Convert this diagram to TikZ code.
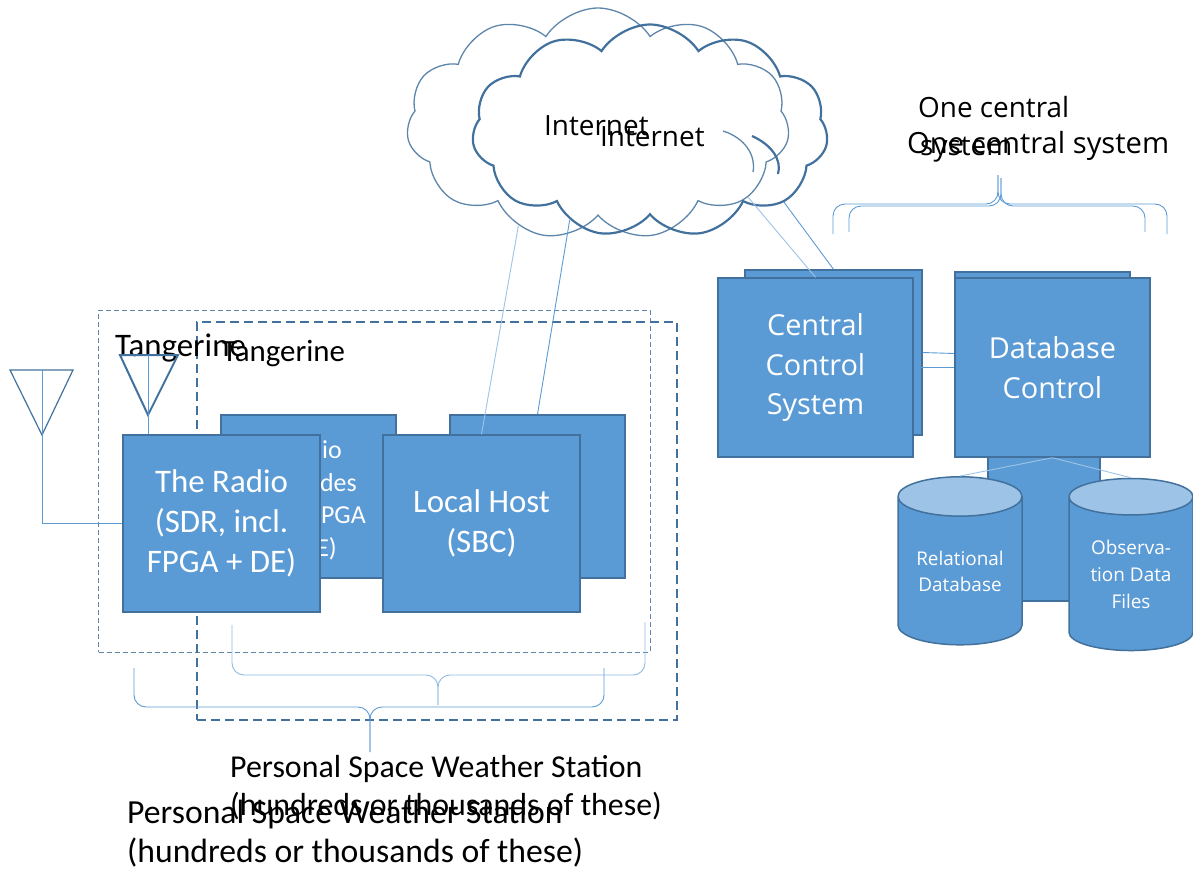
\documentclass[tikz,border=0pt]{standalone}
\usepackage{fontspec}
\setmainfont{Carlito}
\newfontfamily\segoe{Open Sans}
\usetikzlibrary{shapes.symbols,shapes.geometric}
\definecolor{boxfill}{HTML}{5B9BD5}
\definecolor{boxline}{HTML}{41719C}
\definecolor{lightline}{HTML}{9DC3E6}
\definecolor{cylend}{HTML}{9DC3E6}
\tikzset{
  blk/.style={draw=boxline, line width=1.5bp, fill=boxfill, text=white, inner sep=0, align=center},
  cyl/.style={cylinder, shape border rotate=90, draw=boxline, line width=1.5bp,
    cylinder uses custom fill, cylinder body fill=boxfill, cylinder end fill=cylend,
    aspect=0.45, text=white, align=center, inner sep=0},
  link/.style={draw=boxfill, line width=0.9bp},
  linkl/.style={draw=lightline, line width=0.9bp},
  brace/.style={draw=boxfill, line width=0.9bp, rounded corners=12bp},
  bracel/.style={draw=lightline!80!boxfill, line width=0.9bp, rounded corners=12bp},
  tangA/.style={draw=boxline!85, line width=1bp, dash pattern=on 5bp off 3bp, inner sep=0},
  tangB/.style={draw=boxline, line width=2bp, dash pattern=on 9bp off 5bp, inner sep=0},
  cloudshape/.style={cloud, cloud puffs=11, cloud puff arc=115, cloud ignores aspect, inner sep=0},
  cloudarcB/.style={draw=boxline!85, line width=1.3bp},
  cloudarcF/.style={draw=boxline, line width=2.2bp},
  antenna/.style={draw=boxline, line width=1.3bp},
  lbl/.style={anchor=base west, inner sep=0, text=black},
}
\begin{document}
\begin{tikzpicture}[x=1bp,y=-1bp]
\useasboundingbox (0,0) rectangle (1193,870);

% clouds
\node[cloudshape, draw=boxline!85, line width=1.3bp, minimum width=383bp, minimum height=232bp] (cloudB) at (598,124) {};
\node[cloudshape, draw=boxline, line width=2.2bp, minimum width=356bp, minimum height=213bp] (cloudF) at (650,131) {};
% inner arcs of the clouds
\draw[cloudarcB] (723,131) .. controls (745,138) and (756,155) .. (753,172);
\draw[cloudarcF] (752,136) .. controls (772,145) and (782,160) .. (778,174);

\node[lbl, font=\segoe\fontsize{28}{34}\selectfont] (inet1) at (544,135) {Internet};
\node[lbl, font=\segoe\fontsize{28}{34}\selectfont] (inet2) at (600,146) {Internet};

% one central system
\node[lbl, font=\segoe\fontsize{28}{34}\selectfont] (ocs1a) at (918,117) {One central};
\node[lbl, font=\segoe\fontsize{28}{34}\selectfont] (ocs1b) at (920,155) {system};
\node[lbl, font=\segoe\fontsize{29.3}{35}\selectfont] (ocs2) at (907,153) {One central system};
\draw[brace] (833,234) -- (833,204) -- (998,204) -- (998,175);
\draw[brace] (1167,234) -- (1167,204) -- (998,204) -- (998,175);
\draw[brace] (849,232) -- (849,206) -- (1001,206) -- (1001,178);
\draw[brace] (1145,232) -- (1145,206) -- (1001,206) -- (1001,178);

% tangerine dashed boxes
\node[tangA, minimum width=551bp, minimum height=342bp] (tangA) at (374.5,481) {};
\node[tangB, minimum width=480bp, minimum height=398bp] (tangB) at (437,521) {};
\node[lbl, font=\fontsize{33}{40}\selectfont] (tang1) at (115,356) {Tangerine};
\node[lbl, font=\fontsize{31}{38}\selectfont] (tang2) at (222,361) {Tangerine};

% central side connectors (behind boxes)
\node[blk, minimum width=177bp, minimum height=165bp] (ccsB) at (833.5,352.5) {};
\node[blk, minimum width=175bp, minimum height=163bp] (dbB) at (1042.5,353.5) {};
\draw[link] (ccsB.east) -- (dbB.west);
\draw[linkl] (913,367.5) -- (955,367.5);
\node[blk, minimum width=195bp, minimum height=179bp, font=\segoe\fontsize{29}{40}\selectfont] (ccsF) at (815.5,367.5) {Central\\Control\\System};

% cylinders
\node[cyl, minimum width=112bp, minimum height=153bp] (cylM) at (1044,525) {};
\node[blk, minimum width=195bp, minimum height=179bp, font=\segoe\fontsize{29}{40}\selectfont] (dbF) at (1052.5,367.5) {Database\\Control};
\draw[link] (ccsF.east) -- (dbF.west);
\node[cyl, minimum width=124bp, minimum height=168bp, font=\segoe\fontsize{19}{26}\selectfont] (cylL) at (960,571) {Relational\\Database};
\node[cyl, minimum width=124bp, minimum height=172bp, font=\segoe\fontsize{19}{27}\selectfont] (cylR) at (1131,574) {Observa-\\tion Data\\Files};
\draw[linkl] (dbF.south) -- (cylL.north);
\draw[linkl] (dbF.south) -- (cylR.north);

% station boxes
\node[blk, minimum width=175bp, minimum height=163bp] (radioB) at (308.5,496.5) {};
\node[anchor=base east, inner sep=0, text=white, font=\fontsize{26}{32}\selectfont] (rb1) at (342,458) {Radio};
\node[anchor=base east, inner sep=0, text=white, font=\fontsize{26}{32}\selectfont] (rb2) at (357,491) {includes};
\node[anchor=base east, inner sep=0, text=white, font=\fontsize{26}{32}\selectfont] (rb3) at (366,523) {FPGA};
\node[anchor=base east, inner sep=0, text=white, font=\fontsize{26}{32}\selectfont] (rb4) at (337,556) {+ DE)};
\node[blk, minimum width=175bp, minimum height=163bp] (hostB) at (537.5,496.5) {};
\node[blk, minimum width=197bp, minimum height=177bp, font=\fontsize{33}{40}\selectfont] (radioF) at (221.5,523.5) {The Radio\\(SDR, incl.\\FPGA + DE)};
\node[blk, minimum width=197bp, minimum height=177bp, font=\fontsize{33}{40}\selectfont] (hostF) at (481.5,523.5) {Local Host\\(SBC)};

% internet links
\draw[linkl] (cloudB.-128) -- (hostF.north);
\draw[link] (cloudF.-132) -- (hostB.north);
\draw[linkl] (cloudB.-26) -- (ccsF.north);
\draw[link] (cloudF.-28) -- (ccsB.north);

% antennas
\coordinate (ant1) at (42,370);
\coordinate (ant2) at (148,355);
\draw[antenna, line width=1.2bp] (10,370) -- (73,370) -- (42,435) -- cycle;
\draw[antenna, line width=2bp] (120,355) -- (178,355) -- (148,415) -- cycle;
\draw[link] (ant1) |- (radioF.west);
\draw[link] (ant2) -- (ant2 |- radioF.north);

% bottom braces
\draw[bracel] (232,625) -- (232,675) -- (438,675) -- (438,705);
\draw[bracel] (645,622) -- (645,675) -- (438,675) -- (438,705);
\draw[brace] (134,668) -- (134,707) -- (370,707) -- (370,752);
\draw[brace] (604,668) -- (604,707) -- (370,707) -- (370,752);

\node[lbl, font=\fontsize{32}{38}\selectfont] (ps1a) at (230,777) {Personal Space Weather Station};
\node[lbl, font=\fontsize{32}{38}\selectfont] (ps1b) at (230,815) {(hundreds or thousands of these)};
\node[lbl, font=\fontsize{33.8}{40}\selectfont] (ps2a) at (127,823) {Personal Space Weather Station};
\node[lbl, font=\fontsize{33.8}{40}\selectfont] (ps2b) at (127,862) {(hundreds or thousands of these)};
\end{tikzpicture}
\end{document}
